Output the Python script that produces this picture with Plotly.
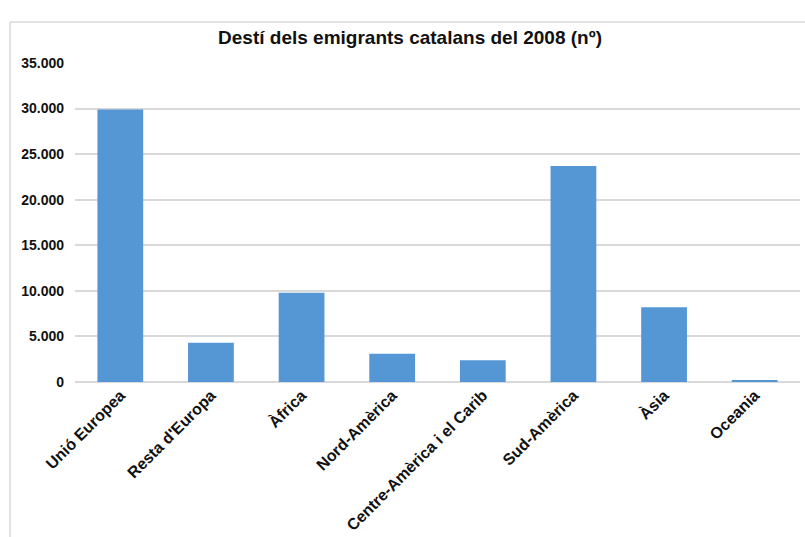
import plotly.graph_objects as go

categories = ["Unió Europea", "Resta d'Europa", "Àfrica", "Nord-Amèrica",
              "Centre-Amèrica i el Carib", "Sud-Amèrica", "Àsia", "Oceania"]
values = [29900, 4300, 9800, 3100, 2400, 23700, 8200, 200]
y_ticks = [0, 5000, 10000, 15000, 20000, 25000, 30000, 35000]
y_tick_labels = ["0", "5.000", "10.000", "15.000", "20.000", "25.000", "30.000", "35.000"]
title_text = "Destí dels emigrants catalans del 2008 (nº)"

W, H = 805, 537
ml, mr, mt, mb = 75, 5, 63, 155
pw, ph = W - ml - mr, H - mt - mb

fig = go.Figure(go.Bar(
    x=categories, y=values,
    marker=dict(color="#5596d5", line=dict(width=0)),
))

font = "Liberation Sans, Arial, sans-serif"
fig.update_layout(
    width=W, height=H,
    margin=dict(l=ml, r=mr, t=mt, b=mb, autoexpand=False),
    paper_bgcolor="white", plot_bgcolor="white",
    bargap=0.495,
    showlegend=False,
    title=dict(text="<b>" + title_text + "</b>", x=410 / W, xanchor="center",
               y=1 - 37 / H, yanchor="middle", yref="container",
               font=dict(family=font, size=19, color="#111111")),
    xaxis=dict(tickangle=-45, tickfont=dict(family=font, size=16, color="#111111"),
               showgrid=False, showline=False, ticks="", automargin=False),
    yaxis=dict(range=[0, 35000], tickvals=y_ticks, ticktext=["<b>%s</b>" % t for t in y_tick_labels],
               tickfont=dict(family=font, size=14, color="#111111"),
               showgrid=True, gridcolor="#d9d9d9", gridwidth=1.5,
               zeroline=True, zerolinecolor="#d9d9d9", zerolinewidth=1.5,
               showline=False, ticks="", ticklabelstandoff=10, automargin=False),
    shapes=[dict(type="rect", xref="paper", yref="paper",
                 x0=(10 - ml) / pw, x1=(812 - ml) / pw,
                 y0=(H - mb - 545) / ph, y1=(H - mb - 22) / ph,
                 line=dict(color="#d9d9d9", width=1.5), layer="below")],
)
fig.update_xaxes(ticktext=["<b>%s</b>" % c for c in categories], tickvals=categories)

fig.write_html("out.html", config={"displayModeBar": False},
               post_script="document.body.style.margin='0';document.body.style.overflow='hidden';")
